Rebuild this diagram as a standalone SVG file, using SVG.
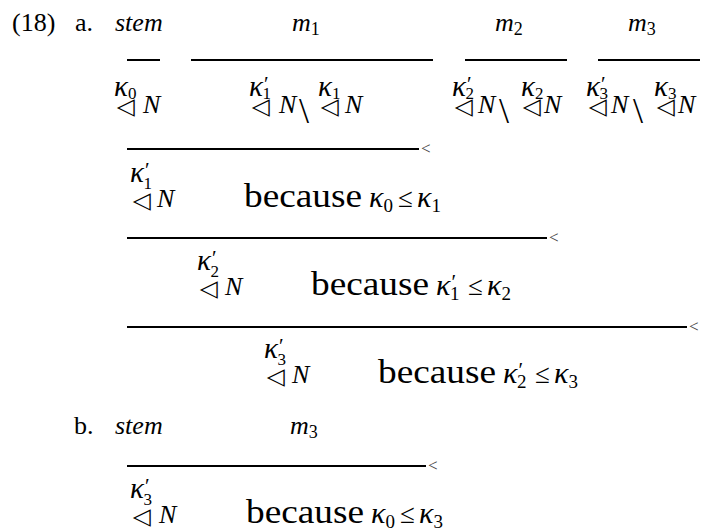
<svg xmlns="http://www.w3.org/2000/svg" width="706" height="531" viewBox="0 0 706 531">
<style>
text{font-family:"Liberation Serif",serif;fill:#000}
.i{font-style:italic}
.top{font-size:26px}
.k{font-size:29px;font-style:italic}
.s{font-size:17px;font-style:normal}
.p{font-size:21px;font-style:normal}
.n{font-size:26px;font-style:italic}
.tri{font-family:"DejaVu Sans",sans-serif;font-size:23px}
.bs{font-size:36px}
.bc{font-size:33px}
.m{font-size:30px;font-style:italic}
.le{font-size:27px}
.ms{font-size:19px;font-style:normal}
.lt{font-size:17px;fill:#444}
.ln{stroke:#000;stroke-width:2}
</style>
<rect width="706" height="531" fill="#fff"/>
<g id="header-a">
<text class="top" x="12" y="31">(18)</text>
<text class="top" x="75" y="31">a.</text>
<text class="top i" x="115" y="31">stem</text>
<text class="top i" x="292" y="31" font-size="28">m<tspan font-size="18" font-style="normal" dy="4">1</tspan></text>
<text class="top i" x="495" y="31" font-size="28">m<tspan font-size="18" font-style="normal" dy="4">2</tspan></text>
<text class="top i" x="628" y="31" font-size="28">m<tspan font-size="18" font-style="normal" dy="4">3</tspan></text>
</g>
<g id="connectors">
<line class="ln" x1="127" y1="60" x2="160" y2="60"/>
<line class="ln" x1="191" y1="60" x2="433" y2="60"/>
<line class="ln" x1="465" y1="60" x2="567" y2="60"/>
<line class="ln" x1="598" y1="60" x2="700" y2="60"/>
<line class="ln" x1="127" y1="149" x2="419" y2="149"/>
<text class="lt" x="421" y="154">&lt;</text>
<line class="ln" x1="127" y1="238" x2="547" y2="238"/>
<text class="lt" x="549" y="243">&lt;</text>
<line class="ln" x1="127" y1="327" x2="687" y2="327"/>
<text class="lt" x="689" y="332">&lt;</text>
<line class="ln" x1="127" y1="466" x2="426" y2="466"/>
<text class="lt" x="428" y="471">&lt;</text>
</g>
<g id="row2-stem">
<text class="k" x="114" y="96">κ<tspan class="s" dy="3">0</tspan></text>
<text class="tri" x="117" y="114" textLength="18" lengthAdjust="spacingAndGlyphs">◁</text><text class="n" x="143" y="113">N</text>
</g>
<g id="row2-m1">
<text class="k" x="249" y="96">κ<tspan class="p" dx="1" dy="-5">′</tspan><tspan class="s" dx="-6" dy="8">1</tspan></text>
<text class="tri" x="252" y="114" textLength="18" lengthAdjust="spacingAndGlyphs">◁</text><text class="n" x="279" y="113">N</text>
<text class="bs" x="299" y="123">\</text>
<text class="k" x="318" y="96">κ<tspan class="s" dy="3">1</tspan></text>
<text class="tri" x="321" y="114" textLength="18" lengthAdjust="spacingAndGlyphs">◁</text><text class="n" x="345" y="113">N</text>
</g>
<g id="row2-m2">
<text class="k" x="452" y="96">κ<tspan class="p" dx="1" dy="-5">′</tspan><tspan class="s" dx="-6" dy="8">2</tspan></text>
<text class="tri" x="455" y="114" textLength="18" lengthAdjust="spacingAndGlyphs">◁</text><text class="n" x="478" y="113">N</text>
<text class="bs" x="499" y="123">\</text>
<text class="k" x="521" y="96">κ<tspan class="s" dy="3">2</tspan></text>
<text class="tri" x="523" y="114" textLength="18" lengthAdjust="spacingAndGlyphs">◁</text><text class="n" x="544" y="113">N</text>
</g>
<g id="row2-m3">
<text class="k" x="586" y="96">κ<tspan class="p" dx="1" dy="-5">′</tspan><tspan class="s" dx="-6" dy="8">3</tspan></text>
<text class="tri" x="589" y="114" textLength="18" lengthAdjust="spacingAndGlyphs">◁</text><text class="n" x="611" y="113">N</text>
<text class="bs" x="633" y="123">\</text>
<text class="k" x="654" y="96">κ<tspan class="s" dy="3">3</tspan></text>
<text class="tri" x="657" y="114" textLength="18" lengthAdjust="spacingAndGlyphs">◁</text><text class="n" x="678" y="113">N</text>
</g>
<g id="row3">
<text class="k" x="130" y="182">κ<tspan class="p" dx="1" dy="-5">′</tspan><tspan class="s" dx="-6" dy="12">1</tspan></text>
<text class="tri" x="133" y="208" textLength="18" lengthAdjust="spacingAndGlyphs">◁</text><text class="n" x="157" y="207">N</text>
<text class="bc" x="244" y="207" textLength="118" lengthAdjust="spacingAndGlyphs">because</text>
<text class="m" x="369" y="207">κ<tspan class="ms" dy="5">0</tspan></text>
<text class="le" x="398" y="207">≤</text>
<text class="m" x="417" y="207">κ<tspan class="ms" dy="5">1</tspan></text>
</g>
<g id="row4">
<text class="k" x="197" y="270">κ<tspan class="p" dx="1" dy="-5">′</tspan><tspan class="s" dx="-6" dy="12">2</tspan></text>
<text class="tri" x="200" y="296" textLength="18" lengthAdjust="spacingAndGlyphs">◁</text><text class="n" x="225" y="295">N</text>
<text class="bc" x="311" y="295" textLength="118" lengthAdjust="spacingAndGlyphs">because</text>
<text class="m" x="436" y="295">κ<tspan class="p" dx="1" dy="-6">′</tspan><tspan class="ms" dx="-6" dy="11">1</tspan></text>
<text class="le" x="468" y="295">≤</text>
<text class="m" x="487" y="295">κ<tspan class="ms" dy="5">2</tspan></text>
</g>
<g id="row5">
<text class="k" x="264" y="358">κ<tspan class="p" dx="1" dy="-5">′</tspan><tspan class="s" dx="-6" dy="12">3</tspan></text>
<text class="tri" x="267" y="384" textLength="18" lengthAdjust="spacingAndGlyphs">◁</text><text class="n" x="292" y="383">N</text>
<text class="bc" x="378" y="383" textLength="118" lengthAdjust="spacingAndGlyphs">because</text>
<text class="m" x="503" y="383">κ<tspan class="p" dx="1" dy="-6">′</tspan><tspan class="ms" dx="-6" dy="11">2</tspan></text>
<text class="le" x="535" y="383">≤</text>
<text class="m" x="554" y="383">κ<tspan class="ms" dy="5">3</tspan></text>
</g>
<g id="header-b">
<text class="top" x="74" y="434">b.</text>
<text class="top i" x="115" y="434">stem</text>
<text class="top i" x="290" y="434" font-size="28">m<tspan font-size="18" font-style="normal" dy="4">3</tspan></text>
</g>
<g id="row6">
<text class="k" x="130" y="498">κ<tspan class="p" dx="1" dy="-5">′</tspan><tspan class="s" dx="-6" dy="12">3</tspan></text>
<text class="tri" x="133" y="524" textLength="18" lengthAdjust="spacingAndGlyphs">◁</text><text class="n" x="159" y="523">N</text>
<text class="bc" x="246" y="523" textLength="118" lengthAdjust="spacingAndGlyphs">because</text>
<text class="m" x="371" y="523">κ<tspan class="ms" dy="5">0</tspan></text>
<text class="le" x="400" y="523">≤</text>
<text class="m" x="419" y="523">κ<tspan class="ms" dy="5">3</tspan></text>
</g>
</svg>
